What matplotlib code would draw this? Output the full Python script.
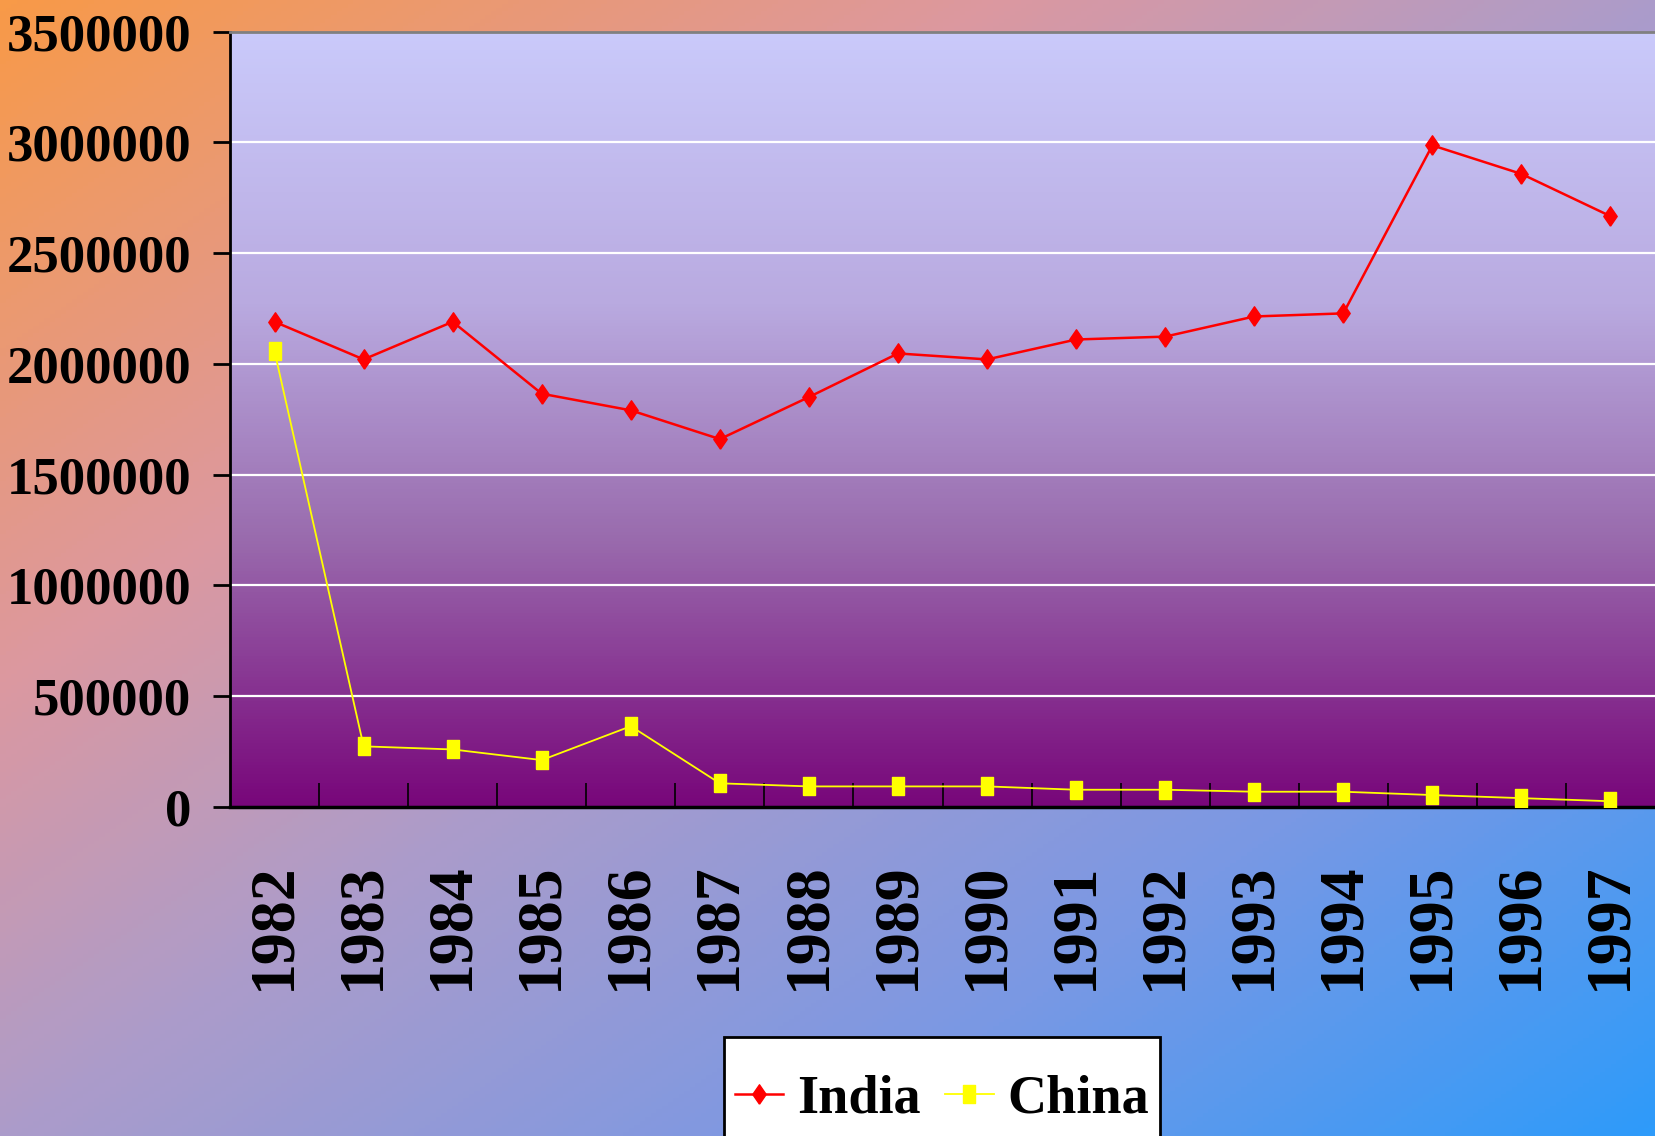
import numpy as np
import matplotlib
matplotlib.use("Agg")
import matplotlib.pyplot as plt
from matplotlib.colors import LinearSegmentedColormap
from matplotlib.patches import Rectangle

# data
years = [str(y) for y in range(1982, 1998)]
india = [2190000, 2020000, 2190000, 1865000, 1790000, 1660000, 1850000, 2047000,
         2020000, 2110000, 2123000, 2214000, 2228000, 2987000, 2858000, 2667000]
china = [2056000, 272000, 258000, 210000, 363000, 105000, 91000, 91000,
         91000, 76000, 76000, 67000, 67000, 52000, 38000, 24000]
yticks = np.arange(0, 3500001, 500000)

plt.rcParams['font.family'] = ['Liberation Serif', 'DejaVu Serif']
plt.rcParams['font.weight'] = 'bold'

fig = plt.figure(figsize=(16.55, 11.36), dpi=100)

# diagonal background gradient for the whole figure
bg = fig.add_axes([0, 0, 1, 1], zorder=-10)
bg_cmap = LinearSegmentedColormap.from_list(
    'bg', [(0, '#F89A48'), (0.3, '#DC98A0'), (0.5, '#AC9CCA'), (0.75, '#7A98E4'), (1, '#2E9BFA')])
gx, gy = np.meshgrid(np.linspace(0, 1, 300), np.linspace(0, 1, 300))
bg.imshow((gx + gy) / 2, cmap=bg_cmap, extent=[0, 1, 0, 1], origin='upper', aspect='auto')
bg.axis('off')

ax = fig.add_axes([0.139, 0.29, 0.861, 0.682])
n = len(years)
x = np.arange(n)

# plot area vertical gradient, light at top, purple at bottom
pa_cmap = LinearSegmentedColormap.from_list(
    'pa', [(0, '#CACAFB'), (0.35, '#B9AAE0'), (0.65, '#9A6CAE'), (1, '#78067A')])
ax.imshow(np.linspace(0, 1, 256)[:, None], cmap=pa_cmap, aspect='auto',
          extent=[-0.5, n - 0.5, 0, 3500000], origin='upper', zorder=0)

for v in yticks[1:-1]:
    ax.axhline(v, color='white', lw=1.6, zorder=1)

diamond = [(0, -1.45), (1, 0), (0, 1.45), (-1, 0), (0, -1.45)]
rect = [(-1, -1.5), (1, -1.5), (1, 1.5), (-1, 1.5), (-1, -1.5)]
ax.plot(x, india, color='#FF0000', lw=1.8, marker=diamond, markersize=14,
        markerfacecolor='#FF0000', markeredgecolor='#FF0000', label='India', zorder=3)
ax.plot(x, china, color='#FFFF00', lw=1.3, marker=rect, markersize=13,
        markerfacecolor='#FFFF00', markeredgecolor='#FFFF00', label='China', zorder=3)

ax.set_xlim(-0.5, n - 0.5)
ax.set_ylim(0, 3500000)
ax.set_yticks(yticks)
ax.set_yticklabels([str(v) for v in yticks], fontsize=38, fontweight='bold')
ax.tick_params(axis='y', direction='out', length=12, width=2, pad=16)

ax.set_xticks(x)
ax.set_xticklabels(years, rotation=90, fontsize=46, fontweight='bold', va='top')
ax.tick_params(axis='x', which='major', length=0, pad=40)
ax.set_xticks(np.arange(0.5, n - 0.5), minor=True)
ax.tick_params(axis='x', which='minor', direction='in', length=17, width=1.2, color='black')

ax.spines['left'].set_linewidth(2)
ax.spines['bottom'].set_linewidth(2.5)
ax.spines['top'].set_color('#808080')
ax.spines['top'].set_linewidth(2)
ax.spines['right'].set_visible(False)

# legend box runs off the bottom edge of the picture
box = Rectangle((0.4375, -0.05), 0.2634, 0.1371, transform=fig.transFigure,
                facecolor='white', edgecolor='black', lw=2, zorder=5)
fig.patches.append(box)
leg = fig.legend(loc='center', bbox_to_anchor=(0.569, 0.032), ncol=2,
                 frameon=False, handlelength=0.9,
                 columnspacing=0.45, handletextpad=0.25, borderpad=0.2,
                 prop={'family': 'Liberation Serif', 'weight': 'bold', 'size': 39})
leg.set_zorder(6)

fig.savefig('out.png', dpi=100)
